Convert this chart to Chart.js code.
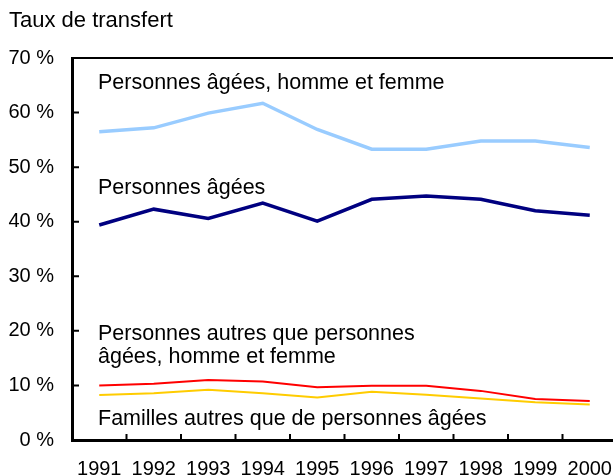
<!DOCTYPE html>
<html><head><meta charset="utf-8">
<script src="https://cdn.jsdelivr.net/npm/chart.js@4/dist/chart.umd.min.js"></script>
<style>html,body{margin:0;padding:0;background:#fff;overflow:hidden;width:613px;height:476px}canvas{display:block}</style>
</head><body>
<canvas id="c" width="617" height="476"></canvas>
<script>
const years = ['1991','1992','1993','1994','1995','1996','1997','1998','1999','2000'];
const ageesHommeFemme = [56.5, 57.2, 59.9, 61.7, 56.9, 53.3, 53.3, 54.8, 54.8, 53.6];
const ageesPersonnes = [39.4, 42.3, 40.6, 43.4, 40.1, 44.1, 44.7, 44.1, 42.0, 41.2];
const autresHommeFemme = [10.0, 10.3, 11.0, 10.7, 9.65, 9.95, 9.95, 9.0, 7.5, 7.15];
const famillesAutres = [8.25, 8.55, 9.2, 8.55, 7.8, 8.85, 8.3, 7.6, 6.9, 6.5];
const yTicks = [0, 10, 20, 30, 40, 50, 60, 70];
const axisTitle = 'Taux de transfert';
const seriesNotes = [
  ['Personnes âgées, homme et femme'],
  ['Personnes âgées'],
  ['Personnes autres que personnes', 'âgées, homme et femme'],
  ['Familles autres que de personnes âgées']
];

const FONT = "'Liberation Sans', Arial, sans-serif";
// note anchors: value on y scale for first baseline
const noteAnchors = [64.3, 45.1, 18.3, 2.75];

const decor = {
  id: 'decor',
  afterDraw(chart) {
    const {ctx, chartArea: a, scales: {x, y}} = chart;
    ctx.save();
    ctx.strokeStyle = '#000';
    ctx.lineWidth = 2;
    ctx.beginPath();
    ctx.moveTo(a.left, a.top); ctx.lineTo(a.right, a.top);
    yTicks.forEach(v => { const py = y.getPixelForValue(v); ctx.moveTo(a.left, py); ctx.lineTo(a.left + 7, py); });
    for (let i = 0; i < years.length - 1; i++) {
      const px = (x.getPixelForValue(i) + x.getPixelForValue(i + 1)) / 2;
      ctx.moveTo(px, a.bottom); ctx.lineTo(px, a.bottom - 6);
    }
    ctx.stroke();
    ctx.fillStyle = '#000';
    ctx.textBaseline = 'alphabetic';
    ctx.textAlign = 'left';
    ctx.font = '22px ' + FONT;
    ctx.fillText(axisTitle, 9, 27);
    ctx.font = '21.5px ' + FONT;
    seriesNotes.forEach((lines, i) => {
      const by = y.getPixelForValue(noteAnchors[i]);
      lines.forEach((t, j) => ctx.fillText(t, a.left + 26, by + j * 23));
    });
    ctx.restore();
  }
};

new Chart(document.getElementById('c'), {
  type: 'line',
  data: {
    labels: years,
    datasets: [
      {data: ageesHommeFemme, borderColor: '#99ccff', borderWidth: 3.5},
      {data: ageesPersonnes, borderColor: '#000080', borderWidth: 3.5},
      {data: autresHommeFemme, borderColor: '#ff0000', borderWidth: 2},
      {data: famillesAutres, borderColor: '#ffcc00', borderWidth: 2}
    ].map(d => Object.assign(d, {pointRadius: 0, tension: 0, fill: false}))
  },
  options: {
    responsive: false,
    animation: false,
    devicePixelRatio: 1,
    layout: {padding: {top: 58, right: 0, left: 0, bottom: 0}},
    plugins: {legend: {display: false}, tooltip: {enabled: false}, title: {display: false}},
    scales: {
      x: {
        type: 'category',
        offset: true,
        grid: {display: true, drawOnChartArea: false, drawTicks: false, offset: true},
        border: {display: true, color: '#000', width: 3},
        ticks: {color: '#000', font: {family: FONT, size: 20}, padding: 17, maxRotation: 0, autoSkip: false},
        afterFit: s => { s.height = 36; s.paddingLeft = 0; s.paddingRight = 0; }
      },
      y: {
        min: 0, max: 70,
        grid: {display: true, drawOnChartArea: false, drawTicks: false},
        border: {display: true, color: '#000', width: 3},
        ticks: {stepSize: 10, color: '#000', font: {family: FONT, size: 20}, padding: 18, callback: v => v + ' %'},
        afterFit: s => { s.width = 72; s.paddingTop = 0; s.paddingBottom = 0; }
      }
    }
  },
  plugins: [decor]
});
</script>
</body></html>
